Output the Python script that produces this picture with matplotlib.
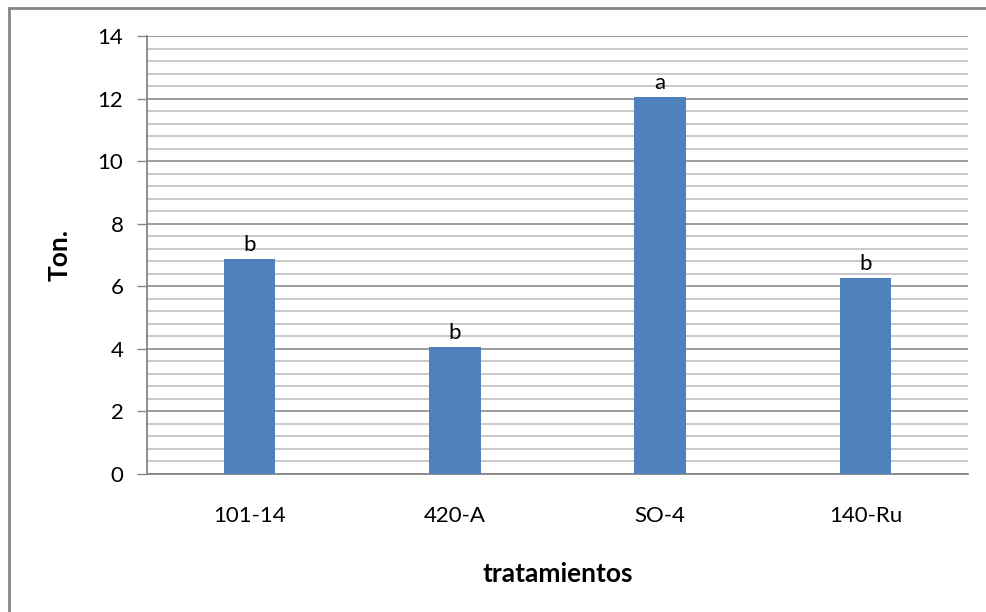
import matplotlib
matplotlib.use("Agg")
import matplotlib.pyplot as plt
from matplotlib.lines import Line2D
import numpy as np

categories = ["101-14", "420-A", "SO-4", "140-Ru"]
values = [6.87, 4.07, 12.06, 6.27]
letters = ["b", "b", "a", "b"]
y_ticks = [0, 2, 4, 6, 8, 10, 12, 14]

plt.rcParams["font.family"] = ["Lato", "DejaVu Sans"]

W, H = 987, 612
fig = plt.figure(figsize=(W / 100, H / 100), dpi=100)
fig.patch.set_facecolor("white")

# axes placement in pixel terms
left, right, top, bottom = 147, 968, 36, 474
ax = fig.add_axes([left / W, 1 - bottom / H, (right - left) / W, (bottom - top) / H])

x = np.arange(len(categories))
ax.bar(x, values, width=0.25, color="#4F81BD", zorder=3)

for xi, v, lab in zip(x, values, letters):
    ax.annotate(lab, (xi, v), xytext=(0, 3), textcoords="offset points",
                ha="center", va="bottom", fontsize=16, color="black", zorder=4)

ax.set_xlim(-0.5, len(categories) - 0.5)
ax.set_ylim(0, 14)
ax.set_yticks(y_ticks)
ax.set_yticklabels([str(t) for t in y_ticks], fontsize=16)
ax.set_yticks(np.arange(0, 14.01, 0.4), minor=True)
ax.set_xticks(x)
ax.set_xticklabels(categories, fontsize=16)

ax.grid(axis="y", which="major", color="#8c8c8c", linewidth=1.2, zorder=0)
ax.grid(axis="y", which="minor", color="#c0c0c0", linewidth=1.2, zorder=0)
ax.tick_params(axis="y", which="major", direction="out", length=7, color="#868686",
               width=1, pad=10)
ax.tick_params(axis="y", which="minor", length=0)
ax.tick_params(axis="x", which="both", length=0, pad=23)

for s in ["top", "right"]:
    ax.spines[s].set_visible(False)
for s in ["left", "bottom"]:
    ax.spines[s].set_color("#868686")
    ax.spines[s].set_linewidth(1.3)

ax.set_ylabel("Ton.", fontsize=19, fontweight="bold", labelpad=19)
ax.set_xlabel("tratamientos", fontsize=19, fontweight="bold", labelpad=26)

# chart area frame (left and top edges)
fig.add_artist(Line2D([9 / W, 9 / W], [0, 1 - 8 / H], transform=fig.transFigure,
                      color="#868686", linewidth=2))
fig.add_artist(Line2D([9 / W, 1], [1 - 8 / H, 1 - 8 / H], transform=fig.transFigure,
                      color="#868686", linewidth=2))

fig.savefig("out.png", dpi=100)
